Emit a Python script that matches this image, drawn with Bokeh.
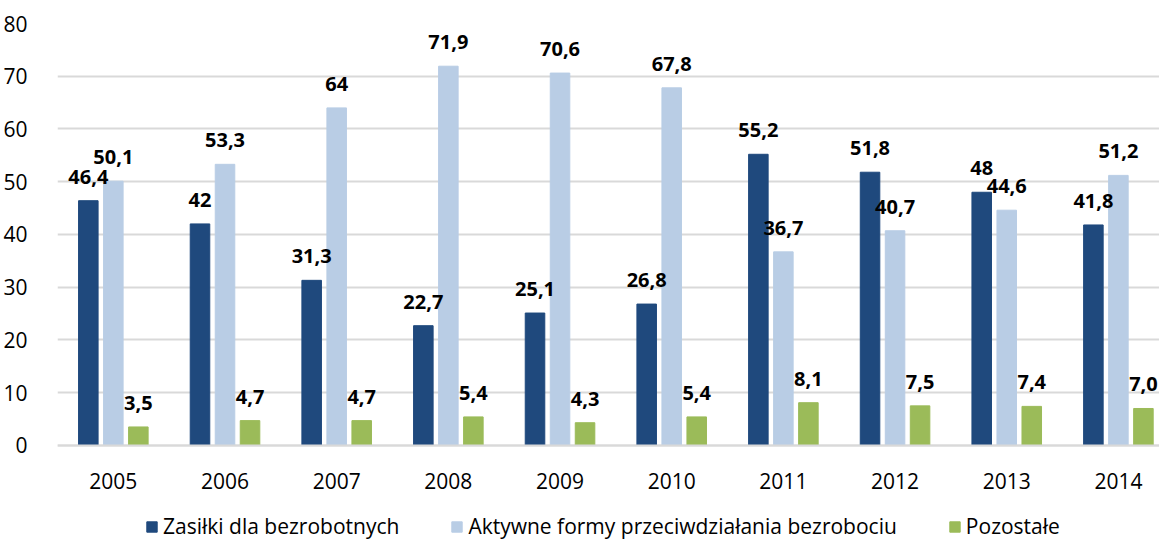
from bokeh.plotting import figure
from bokeh.models import ColumnDataSource, Range1d, FixedTicker, Legend, LegendItem
from bokeh.transform import dodge
from bokeh.core.properties import value
from bokeh.embed import file_html
from bokeh.resources import INLINE

years = ["2005", "2006", "2007", "2008", "2009", "2010", "2011", "2012", "2013", "2014"]
series_names = ["Zasiłki dla bezrobotnych", "Aktywne formy przeciwdziałania bezrobociu", "Pozostałe"]
zasilki = [46.4, 42, 31.3, 22.7, 25.1, 26.8, 55.2, 51.8, 48, 41.8]
aktywne = [50.1, 53.3, 64, 71.9, 70.6, 67.8, 36.7, 40.7, 44.6, 51.2]
pozostale = [3.5, 4.7, 4.7, 5.4, 4.3, 5.4, 8.1, 7.5, 7.4, 7.0]
zasilki_labels = ["46,4", "42", "31,3", "22,7", "25,1", "26,8", "55,2", "51,8", "48", "41,8"]
aktywne_labels = ["50,1", "53,3", "64", "71,9", "70,6", "67,8", "36,7", "40,7", "44,6", "51,2"]
pozostale_labels = ["3,5", "4,7", "4,7", "5,4", "4,3", "5,4", "8,1", "7,5", "7,4", "7,0"]
y_ticks = [0, 10, 20, 30, 40, 50, 60, 70, 80]

colors = ["#1F497D", "#B9CDE5", "#9BBB59"]
FONT = "Open Sans"

xs = list(range(len(years)))
src = ColumnDataSource(dict(x=xs, z=zasilki, a=aktywne, p=pozostale,
                            zl=zasilki_labels, al=aktywne_labels, pl=pozostale_labels))

p = figure(width=1159, height=540, output_backend="svg", toolbar_location=None,
           x_range=Range1d(-0.5, 9.368), y_range=Range1d(-18.03, 80),
           min_border_left=57, min_border_right=0, min_border_top=23, min_border_bottom=0)
p.outline_line_color = None
p.background_fill_color = "white"

offs = [-0.224, 0.0, 0.224]
cols = ["z", "a", "p"]
labs = ["zl", "al", "pl"]
renderers = []
for off, c, color in zip(offs, cols, colors):
    r = p.vbar(x=dodge("x", off, range=p.x_range), top=c, width=0.175, source=src,
               fill_color=color, line_color=color)
    renderers.append(r)
for off, c, l in zip(offs, cols, labs):
    p.text(x=dodge("x", off, range=p.x_range), y=c, text=l, source=src,
           text_align="center", text_baseline="middle", y_offset=-24,
           text_font=value(FONT), text_font_style="bold", text_font_size="20px",
           text_color="black")

p.xgrid.visible = False
p.ygrid.ticker = FixedTicker(ticks=y_ticks)
p.ygrid.grid_line_color = "#D9D9D9"
p.ygrid.grid_line_width = 2

p.yaxis.ticker = FixedTicker(ticks=y_ticks)
p.yaxis.axis_line_color = None
p.yaxis.major_tick_line_color = None
p.yaxis.minor_tick_line_color = None
p.yaxis.major_label_standoff = 24
p.yaxis.major_label_text_font = FONT
p.yaxis.major_label_text_font_size = "21px"
p.yaxis.major_label_text_color = "#000000"

p.xaxis.fixed_location = 0
p.xaxis.ticker = FixedTicker(ticks=xs)
p.xaxis.major_label_overrides = {i: y for i, y in zip(xs, years)}
p.xaxis.axis_line_color = "#D9D9D9"
p.xaxis.axis_line_width = 2
p.xaxis.major_tick_line_color = None
p.xaxis.minor_tick_line_color = None
p.xaxis.major_label_standoff = 22
p.xaxis.major_label_text_font = FONT
p.xaxis.major_label_text_font_size = "21px"
p.xaxis.major_label_text_color = "#000000"

legend = Legend(items=[LegendItem(label=n, renderers=[r]) for n, r in zip(series_names, renderers)],
                orientation="horizontal", location=(88, 0),
                glyph_width=13, glyph_height=13, label_standoff=5, spacing=51,
                label_text_font=FONT, label_text_font_size="21px", label_text_color="#000000",
                border_line_color=None, background_fill_alpha=0, padding=0, margin=0)
p.add_layout(legend, "center")

open("out.html", "w").write(file_html(p, INLINE))
